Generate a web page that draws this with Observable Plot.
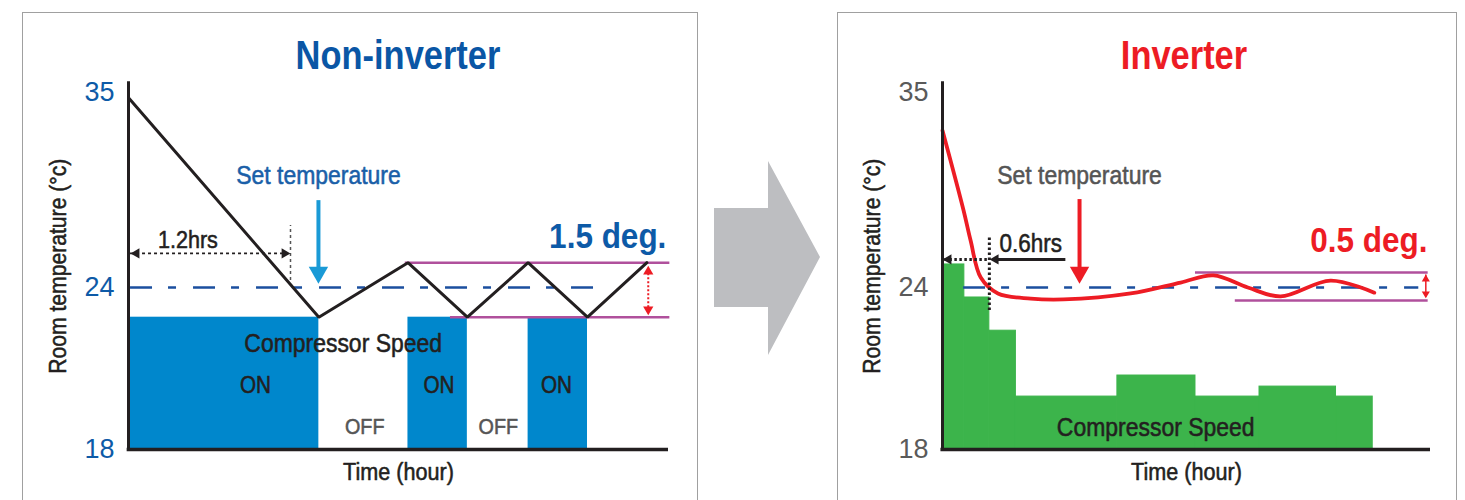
<!DOCTYPE html>
<html>
<head>
<meta charset="utf-8">
<script src="https://cdn.jsdelivr.net/npm/d3@7"></script>
<script src="https://cdn.jsdelivr.net/npm/@observablehq/plot@0.6"></script>
<style>
  html, body { margin: 0; padding: 0; background: #fff; }
  #wrap { position: relative; width: 1465px; height: 500px; overflow: hidden; background: #fff;
          font-family: "Liberation Sans", Arial, sans-serif; }
  .panel { position: absolute; border: 1.5px solid #a0a0a0; background: #fff; }
  .title { position: absolute; transform: translate(-50%, -50%) scaleX(0.84); font-weight: bold; font-size: 41px; white-space: nowrap; }
  .chart { position: absolute; top: 0; }
</style>
</head>
<body>
<div id="wrap">
  <div class="panel" style="left:22px; top:12px; width:674px; height:520px;"></div>
  <div class="panel" style="left:837px; top:12px; width:618px; height:520px;"></div>
  <svg style="position:absolute; left:0; top:0;" width="1465" height="500">
    <polygon points="714,208 768,208 768,161 820,257 768,355 768,307 714,307" fill="#bdbec1"/>
  </svg>
  <div id="leftTitle" class="title" style="left:398px; top:55px; color:#0a56a5;"></div>
  <div id="rightTitle" class="title" style="left:1184px; top:55px; color:#ed1c24;"></div>
  <div id="left" class="chart" style="left:0px;"></div>
  <div id="right" class="chart" style="left:720px;"></div>
</div>
<script>
// ---------- shared ----------
const titles = ["Non-inverter", "Inverter"];
const yTicks = [18, 24, 35];
const yLabel = "Room temperature (°c)";
const xLabel = "Time (hour)";
const setTempLabel = "Set temperature";
const setTemp = 24;

// ---------- Non-inverter (left) ----------
// room temperature zigzag (hours, °C)
const nonInvTime = [0, 1.41, 2.07, 2.51, 2.96, 3.40, 3.84];
const nonInvTemp = [34.7, 22.9, 25.4, 22.9, 25.4, 22.9, 25.4];
// compressor ON periods
const onStart = [0, 2.07, 2.96];
const onEnd = [1.41, 2.51, 3.40];
const onLevel = 22.9;
const onLabels = ["ON", "ON", "ON"];
const onLabelTime = [0.94, 2.30, 3.17];
const offLabels = ["OFF", "OFF"];
const offLabelTime = [1.75, 2.74];
const nonInvBand = [22.9, 25.4];
const nonInvDeltaLabel = "1.5 deg.";
const nonInvHoursLabel = "1.2hrs";
const nonInvHours = 1.2;

// ---------- Inverter (right) ----------
const invTime = [0, 0.27, 0.36, 0.49, 0.71, 1.13, 1.55, 2.41, 3.05, 3.47, 3.91, 4.33, 4.97, 5.53];
const invTemp = [32.85, 28.34, 26.65, 24.56, 23.78, 23.59, 23.56, 23.78, 24.28, 24.68, 24.0, 23.67, 24.39, 23.81];
// compressor speed steps
const stepStart = [0, 0.28, 0.60, 0.94, 2.24, 3.24, 4.06, 5.04];
const stepEnd = [0.28, 0.60, 0.94, 2.24, 3.24, 4.06, 5.04, 5.51];
const stepLevel = [25.3, 23.63, 22.4, 19.96, 20.74, 19.96, 20.33, 19.96];
const invBand = [23.52, 24.85];
const invDeltaLabel = "0.5 deg.";
const invHoursLabel = "0.6hrs";
const invHours = 0.6;
const compLabel = "Compressor Speed";

// ---------- styles ----------
const FONT = '"Liberation Sans", Arial, sans-serif';
const INK = "#231f20";
const MAGENTA = "#b0509c";
const DASHBLUE = "#1b4f9f";
const RED = "#ed1c24";

document.getElementById("leftTitle").textContent = titles[0];
document.getElementById("rightTitle").textContent = titles[1];

const yScale = {type: "linear", domain: [18, 24, 35], range: [449, 287, 92]};

// medium-weight look for regular labels
const med = (color, size) => ({fill: color, stroke: color, strokeWidth: 0.55, fontSize: size, fontFamily: FONT});

function common(tickColor) {
  return [
    Plot.axisY(yTicks, {tickSize: 0, tickPadding: 14, fontSize: 27, label: null, fill: tickColor, color: tickColor}),
    Plot.text([{t: yLabel, y: 25.2}], {text: "t", y: "y", frameAnchor: "left", dx: -70, rotate: -90,
      textAnchor: "middle", lineAnchor: "middle", ...med(INK, 23.5)}),
    Plot.text([xLabel], {frameAnchor: "bottom", dy: 23, lineAnchor: "middle", ...med(INK, 24)})
  ];
}

// narrow the labels horizontally around their own anchor (condensed type look)
function condense(svg, k) {
  svg.querySelectorAll("text").forEach(el => {
    const g = el.parentNode;
    if (g && /tick label/.test(g.getAttribute("aria-label") || "")) return;
    const t = el.getAttribute("transform") || "";
    el.setAttribute("transform", `${t} scale(${k},1)`);
  });
}

// ---------- left chart ----------
const nonInvPts = nonInvTime.map((t, i) => ({t, v: nonInvTemp[i]}));
const onBars = onStart.map((s, i) => ({s, e: onEnd[i], v: onLevel}));
const onText = onLabels.map((l, i) => ({l, t: onLabelTime[i]}));
const offText = offLabels.map((l, i) => ({l, t: offLabelTime[i]}));

const left = Plot.plot({
  width: 700, height: 500,
  marginLeft: 128, marginRight: 32, marginTop: 92, marginBottom: 51,
  style: {fontFamily: FONT, color: "#0d5aa7", background: "transparent", overflow: "visible"},
  x: {domain: [0, 4], axis: null},
  y: yScale,
  marks: [
    Plot.rectY(onBars, {x1: "s", x2: "e", y1: 18, y2: "v", fill: "#0087cc"}),
    Plot.ruleY([setTemp], {x1: 0.015, x2: 3.55, stroke: DASHBLUE, strokeWidth: 2.5, strokeDasharray: "22,16,8,17"}),
    Plot.ruleY([nonInvBand[1]], {x1: 2.05, x2: 4.01, stroke: MAGENTA, strokeWidth: 2.5}),
    Plot.ruleY([nonInvBand[0]], {x1: 2.385, x2: 4.01, stroke: MAGENTA, strokeWidth: 2.5}),
    Plot.line(nonInvPts, {x: "t", y: "v", stroke: INK, strokeWidth: 3, strokeLinejoin: "miter"}),
    Plot.ruleX([0], {y1: 18, y2: 35.6, stroke: INK, strokeWidth: 3}),
    Plot.ruleY([18], {x1: -0.01, x2: 4, stroke: INK, strokeWidth: 3.5}),
    // 1.2hrs dimension
    Plot.ruleY([25.92], {x1: 0.015, x2: 1.16, stroke: INK, strokeWidth: 1.8, strokeDasharray: "3,3"}),
    Plot.ruleX([nonInvHours], {y1: 24.39, y2: 27.5, stroke: "#555", strokeWidth: 1.5, strokeDasharray: "3,3"}),
    Plot.dot([{t: 0.059, r: -90}, {t: 1.156, r: 90}], {x: "t", y: 25.92, rotate: "r", symbol: "triangle", r: 3.8, fill: INK}),
    Plot.text([nonInvHoursLabel], {x: 0.44, y: 26.65, ...med(INK, 24)}),
    // set temperature arrow
    Plot.text([setTempLabel], {x: 1.407, y: 30.32, ...med("#1a5fa8", 25.5)}),
    Plot.ruleX([1.407], {y1: 24.9, y2: 28.9, stroke: "#1a9ad6", strokeWidth: 4}),
    Plot.dot([1.407], {x: d => d, y: 24.85, symbol: "triangle", rotate: 180, r: 7.2, fill: "#1a9ad6"}),
    // 1.5 deg
    Plot.ruleX([3.85], {y1: 23.1, y2: 25.1, stroke: RED, strokeWidth: 2, strokeDasharray: "2,2"}),
    Plot.dot([{v: 24.9, r: 0}, {v: 23.19, r: 180}], {x: 3.85, y: "v", rotate: "r", symbol: "triangle", r: 3.8, fill: RED}),
    Plot.text([nonInvDeltaLabel], {x: 3.55, y: 26.85, fontSize: 35, fontWeight: "bold", fill: "#0d5aa7", fontFamily: FONT}),
    // compressor labels
    Plot.text([compLabel], {x: 1.59, y: 21.93, ...med(INK, 25.5)}),
    Plot.text(onText, {x: "t", y: 20.37, text: "l", ...med(INK, 23)}),
    Plot.text(offText, {x: "t", y: 18.85, text: "l", ...med("#555", 22)}),
    ...common("#0d5aa7")
  ]
});
condense(left, 0.9);
document.getElementById("left").appendChild(left);

// ---------- right chart ----------
const invPts = invTime.map((t, i) => ({t, v: invTemp[i]}));
const steps = stepStart.map((s, i) => ({s, e: stepEnd[i], v: stepLevel[i]}));

const right = Plot.plot({
  width: 745, height: 500,
  marginLeft: 222, marginRight: 35, marginTop: 92, marginBottom: 51,
  style: {fontFamily: FONT, color: "#5a5a5a", background: "transparent", overflow: "visible"},
  x: {domain: [0, 6.25], axis: null},
  y: yScale,
  marks: [
    Plot.rectY(steps, {x1: "s", x2: "e", y1: 18, y2: "v", fill: "#3cb44b", stroke: "#3cb44b", strokeWidth: 1}),
    Plot.ruleY([setTemp], {x1: 0.27, x2: 6.1, stroke: DASHBLUE, strokeWidth: 2.5, strokeDasharray: "22,16,8,17"}),
    Plot.ruleY([invBand[1]], {x1: 3.24, x2: 6.22, stroke: MAGENTA, strokeWidth: 2.5}),
    Plot.ruleY([invBand[0]], {x1: 3.75, x2: 6.22, stroke: MAGENTA, strokeWidth: 2.5}),
    Plot.line(invPts, {x: "t", y: "v", stroke: RED, strokeWidth: 3.8, curve: "catmull-rom"}),
    Plot.ruleX([0], {y1: 18, y2: 35.6, stroke: INK, strokeWidth: 3}),
    Plot.ruleY([18], {x1: -0.02, x2: 6.25, stroke: INK, strokeWidth: 3.5}),
    // 0.6hrs dimension
    Plot.ruleY([25.58], {x1: 0.03, x2: invHours, stroke: INK, strokeWidth: 3, strokeDasharray: "2.5,2.5"}),
    Plot.ruleY([25.58], {x1: 0.66, x2: 1.58, stroke: INK, strokeWidth: 3}),
    Plot.ruleX([invHours], {y1: 23.15, y2: 26.82, stroke: INK, strokeWidth: 3, strokeDasharray: "2.5,2.5"}),
    Plot.dot([0.077, 0.68], {x: d => d, y: 25.58, rotate: -90, symbol: "triangle", r: 3.8, fill: INK}),
    Plot.text([invHoursLabel], {x: 1.13, y: 26.48, ...med(INK, 25)}),
    // set temperature arrow
    Plot.text([setTempLabel], {x: 1.755, y: 30.32, ...med("#555", 25.5)}),
    Plot.ruleX([1.755], {y1: 24.9, y2: 28.96, stroke: RED, strokeWidth: 4}),
    Plot.dot([1.755], {x: d => d, y: 24.85, symbol: "triangle", rotate: 180, r: 7.2, fill: RED}),
    // 0.5 deg
    Plot.ruleX([6.19], {y1: 23.65, y2: 24.7, stroke: RED, strokeWidth: 1.5}),
    Plot.dot([{v: 24.47, r: 0}, {v: 23.77, r: 180}], {x: 6.19, y: "v", rotate: "r", symbol: "triangle", r: 3, fill: RED}),
    Plot.text([invDeltaLabel], {x: 5.46, y: 26.65, fontSize: 35, fontWeight: "bold", fill: RED, fontFamily: FONT}),
    Plot.text([compLabel], {x: 2.73, y: 18.81, ...med(INK, 25.5)}),
    ...common("#5a5a5a")
  ]
});
condense(right, 0.9);
document.getElementById("right").appendChild(right);
</script>
</body>
</html>
